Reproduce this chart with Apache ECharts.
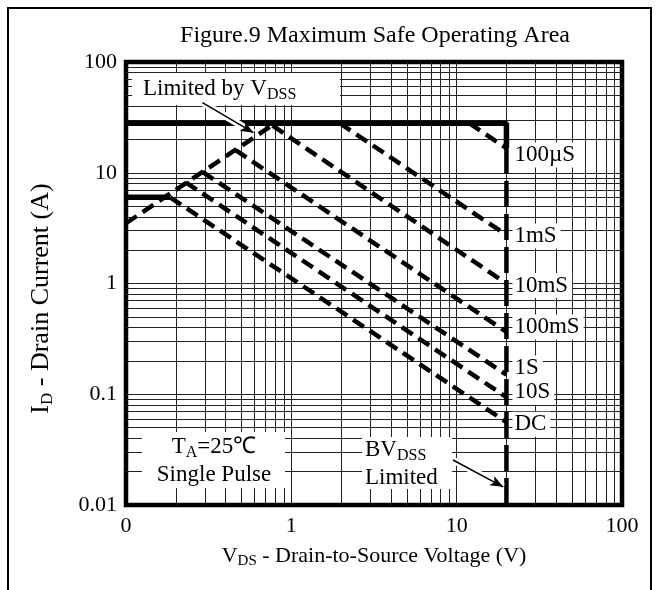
<!DOCTYPE html>
<html>
<head>
<meta charset="utf-8">
<script src="https://cdn.jsdelivr.net/npm/echarts@6/dist/echarts.min.js"></script>
<style>
  html, body { margin: 0; padding: 0; background: #fff; }
  #chart { width: 659px; height: 590px; }
</style>
</head>
<body>
<div id="chart"></div>
<script>
// axis ticks (the figure prints "0" at the 0.1 V end)
const xTicks = [0.1, 1, 10, 100];
const xTickLabels = ['0', '1', '10', '100'];
const yTicks = [0.01, 0.1, 1, 10, 100];
const yTickLabels = ['0.01', '0.1', '1', '10', '100'];
const minorSteps = [2, 3, 4, 5, 6, 7, 8, 9];

// SOA boundaries, [V, A]
const idPulseLimit = [[0.1, 28], [20, 28], [20, 16.7]];
const idDcLimit = [[0.1, 6], [0.185, 6]];
const rdsLimit = [[0.1, 3.5], [0.77, 27]];
const bvdssLimit = [[20, 16.7], [20, 0.01]];

const pulseNames = ['100µS', '1mS', '10mS', '100mS', '1S', '10S', 'DC'];
const us100 = [[11.9, 28], [20, 16.7]];
const ms1 = [[1.96, 28], [20, 2.74]];
const ms10 = [[0.77, 26.6], [20, 1.0]];
const ms100 = [[0.46, 16], [20, 0.365]];
const s1 = [[0.29, 10.2], [20, 0.15]];
const s10 = [[0.23, 8.2], [20, 0.094]];
const dc = [[0.185, 6], [20, 0.056]];
const pulseCurves = [us100, ms1, ms10, ms100, s1, s10, dc];

// annotation arrows [from, to]
const arrowVdss = [[0.29, 43], [0.59, 23]];
const arrowBv = [[9.5, 0.0255], [19.1, 0.0146]];

const FONT = '"Liberation Serif", "Times New Roman", serif';
const labelDy = [7, 1, 2, -5, -7, -5, 2];

function tickLabel(ticks, labels) {
  return v => {
    const i = ticks.findIndex(t => Math.abs(Math.log10(t) - Math.log10(v)) < 1e-6);
    return i < 0 ? '' : labels[i];
  };
}

function gridValues(ticks) {
  const vals = [];
  for (let d = 0; d < ticks.length - 1; d++) {
    vals.push(ticks[d]);
    minorSteps.forEach(m => vals.push(ticks[d] * m));
  }
  return vals.slice(1);
}

const rich = {
  m: { fontSize: 23, fontFamily: FONT, color: '#000', lineHeight: 27 },
  s: { fontSize: 16, fontFamily: FONT, color: '#000', padding: [12, 0, 0, 0] }
};
const nameRich = {
  m: { fontSize: 22, fontFamily: FONT, color: '#000' },
  s: { fontSize: 15, fontFamily: FONT, color: '#000', padding: [11, 0, 0, 0] }
};
const yNameRich = {
  m: { fontSize: 26, fontFamily: FONT, color: '#000' },
  s: { fontSize: 17, fontFamily: FONT, color: '#000', padding: [13, 0, 0, 0] }
};

const dashed = { color: '#000', width: 4.5, type: [13, 7], cap: 'butt' };

const chart = echarts.init(document.getElementById('chart'));

const series = [
  {
    // log grid
    type: 'line', data: [], z: 0, silent: true,
    markLine: {
      z: 1, silent: true, symbol: 'none', animation: false,
      label: { show: false },
      lineStyle: { color: '#222', width: 1, type: 'solid' },
      data: gridValues(xTicks).map(v => ({ xAxis: v }))
        .concat(gridValues(yTicks).map(v => ({ yAxis: v })))
    }
  },
  {
    type: 'line', data: idPulseLimit, symbol: 'none', z: 5, silent: true,
    lineStyle: { color: '#000', width: 5.5 }
  },
  {
    type: 'line', data: idDcLimit, symbol: 'none', z: 5, silent: true,
    lineStyle: { color: '#000', width: 5.5 }
  },
  {
    type: 'line', data: rdsLimit, symbol: 'none', z: 5, silent: true,
    lineStyle: dashed
  },
  {
    type: 'line', data: bvdssLimit, symbol: 'none', z: 5, silent: true,
    lineStyle: { color: '#000', width: 4.5, type: [26, 7], cap: 'butt' }
  }
];

pulseCurves.forEach((d, i) => {
  series.push({
    name: pulseNames[i], type: 'line', data: d, symbol: 'none', z: 5, silent: true,
    lineStyle: dashed,
    endLabel: {
      show: true, formatter: pulseNames[i], distance: 6, offset: [0, labelDy[i]],
      fontFamily: FONT, fontSize: 23, color: '#000',
      backgroundColor: '#fff', padding: [1, 4, 1, 2]
    }
  });
});

series.push({
  type: 'line', data: [], z: 6, silent: true,
  markLine: {
    z: 6, silent: true, symbol: 'none', animation: false,
    label: { show: false },
    lineStyle: { color: '#fff', width: 7, type: 'solid' },
    data: [arrowVdss, arrowBv].map(a => [{ coord: a[0] }, { coord: a[1] }])
  }
});
series.push({
  type: 'line', data: [], z: 7, silent: true,
  markLine: {
    z: 7, silent: true, symbol: ['none', 'arrow'], symbolSize: [8, 13], animation: false,
    label: { show: false },
    lineStyle: { color: '#000', width: 1.5, type: 'solid' },
    data: [arrowVdss, arrowBv].map(a => [{ coord: a[0] }, { coord: a[1] }])
  }
});

const box = (x, y, w, h) => ({
  type: 'rect', z: 3, silent: true,
  shape: { x, y, width: w, height: h },
  style: { fill: '#fff', stroke: null }
});

const option = {
  animation: false,
  backgroundColor: '#fff',
  title: {
    text: 'Figure.9 Maximum Safe Operating Area',
    left: 370, top: 19, textAlign: 'center',
    textStyle: { fontFamily: FONT, fontSize: 24, fontWeight: 'normal', color: '#000' }
  },
  grid: {
    left: 126, right: 37, top: 62, bottom: 85,
    show: true, borderColor: '#000', borderWidth: 4.5
  },
  xAxis: {
    type: 'log', logBase: 10, min: 0.1, max: 100,
    axisLine: { show: false }, axisTick: { show: false }, splitLine: { show: false },
    axisLabel: {
      formatter: tickLabel(xTicks, xTickLabels), showMinLabel: true, showMaxLabel: true,
      fontFamily: FONT, fontSize: 22, color: '#000', margin: 10
    },
    name: '{m|V}{s|DS}{m| - Drain-to-Source Voltage (V)}',
    nameLocation: 'middle', nameGap: 38,
    nameTextStyle: { rich: nameRich }
  },
  yAxis: {
    type: 'log', logBase: 10, min: 0.01, max: 100,
    axisLine: { show: false }, axisTick: { show: false }, splitLine: { show: false },
    axisLabel: {
      formatter: tickLabel(yTicks, yTickLabels), showMinLabel: true, showMaxLabel: true,
      fontFamily: FONT, fontSize: 22, color: '#000', margin: 9
    },
    name: '{m|I}{s|D}{m| - Drain Current (A)}',
    nameLocation: 'middle', nameGap: 70, nameRotate: 90,
    nameTextStyle: { rich: yNameRich, padding: [0, 30, 0, 0] }
  },
  graphic: [
    {
      type: 'rect', z: 10, silent: true,
      shape: { x: 8, y: 8, width: 643, height: 600 },
      style: { fill: 'none', stroke: '#000', lineWidth: 2 }
    },
    box(132, 73, 208, 32),
    {
      type: 'text', z: 4, x: 143, y: 89, silent: true,
      style: { text: '{m|Limited by V}{s|DSS}', rich, verticalAlign: 'middle' }
    },
    box(142, 432, 143, 56),
    {
      type: 'text', z: 4, x: 214, y: 433, silent: true,
      style: { text: '{m|T}{s|A}{m|=25℃}\n{m|Single Pulse}', rich, align: 'center' }
    },
    box(362, 437, 90, 52),
    {
      type: 'text', z: 4, x: 365, y: 436, silent: true,
      style: { text: '{m|BV}{s|DSS}\n{m|Limited}', rich }
    }
  ],
  series
};

chart.setOption(option);
window.addEventListener('resize', () => chart.resize());
</script>
</body>
</html>
